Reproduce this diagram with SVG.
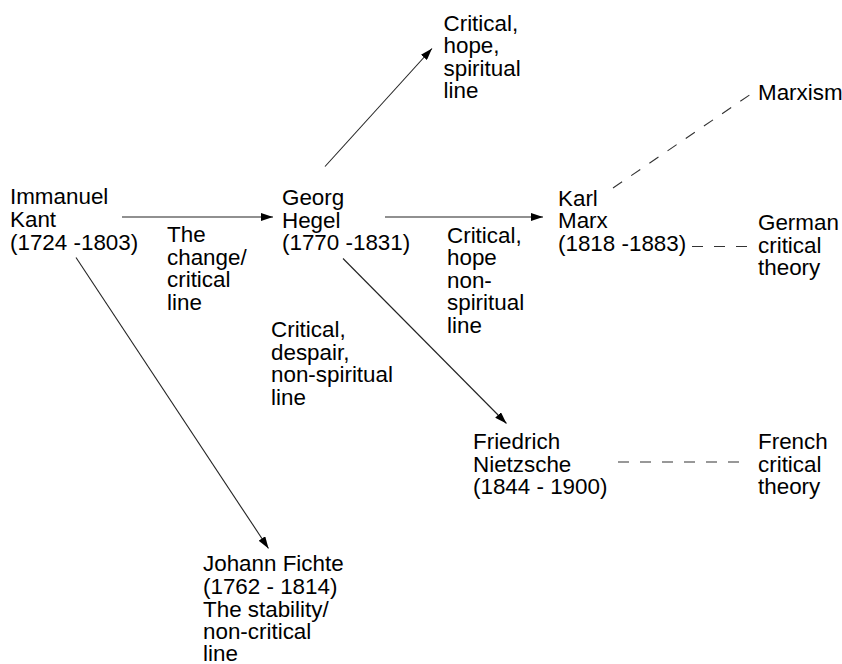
<svg xmlns="http://www.w3.org/2000/svg" width="842" height="664" viewBox="0 0 842 664">
  <style>
    text { font-family: "Liberation Sans", Arial, sans-serif; font-size: 22.4px; fill: #000; }
    .arrow { stroke: #222; stroke-width: 1.1; fill: none; marker-end: url(#head); }
    .dash { stroke: #333; stroke-width: 1.1; fill: none; stroke-dasharray: 11 11; }
  </style>
  <defs>
    <marker id="head" viewBox="0 0 12 8" refX="12" refY="4" markerWidth="12" markerHeight="8" markerUnits="userSpaceOnUse" orient="auto">
      <path d="M0,0 L12,4 L0,8 z" fill="#000"/>
    </marker>
  </defs>
  <rect width="842" height="664" fill="#fff"/>

  <g id="connectors">
    <line class="arrow" x1="122" y1="217" x2="273" y2="217"/>
    <line class="arrow" x1="385" y1="217" x2="543" y2="217"/>
    <line class="arrow" x1="325" y1="166.5" x2="432" y2="48.5"/>
    <line class="arrow" x1="343" y1="258.5" x2="506.5" y2="423.5"/>
    <line class="arrow" x1="76" y1="257.5" x2="268.5" y2="548.5"/>
    <line class="dash" x1="613" y1="188" x2="751" y2="94"/>
    <line class="dash" x1="692" y1="246.5" x2="748" y2="246.5"/>
    <line class="dash" x1="618" y1="462" x2="742" y2="462"/>
  </g>

  <g id="kant">
    <text x="10" y="203.5">Immanuel</text>
    <text x="10" y="226.5">Kant</text>
    <text x="10" y="249.5">(1724 -1803)</text>
  </g>
  <g id="hegel">
    <text x="282" y="205">Georg</text>
    <text x="282" y="227.5">Hegel</text>
    <text x="282" y="250">(1770 -1831)</text>
  </g>
  <g id="marx">
    <text x="558" y="205.5">Karl</text>
    <text x="558" y="228">Marx</text>
    <text x="558" y="250.5">(1818 -1883)</text>
  </g>
  <g id="nietzsche">
    <text x="473" y="448.5">Friedrich</text>
    <text x="473" y="471.5">Nietzsche</text>
    <text x="473" y="494">(1844 - 1900)</text>
  </g>
  <g id="fichte">
    <text x="203" y="571">Johann Fichte</text>
    <text x="203" y="594">(1762 - 1814)</text>
    <text x="203" y="616.5">The stability/</text>
    <text x="203" y="638.5">non-critical</text>
    <text x="203" y="660.5">line</text>
  </g>
  <g id="marxism">
    <text x="758" y="99.5">Marxism</text>
  </g>
  <g id="german-critical-theory">
    <text x="758" y="230">German</text>
    <text x="758" y="252.5">critical</text>
    <text x="758" y="275">theory</text>
  </g>
  <g id="french-critical-theory">
    <text x="758" y="448.5">French</text>
    <text x="758" y="471.5">critical</text>
    <text x="758" y="494">theory</text>
  </g>
  <g id="label-change">
    <text x="167" y="242">The</text>
    <text x="167" y="264.5">change/</text>
    <text x="167" y="287">critical</text>
    <text x="167" y="309.5">line</text>
  </g>
  <g id="label-spiritual">
    <text x="443.5" y="31">Critical,</text>
    <text x="443.5" y="53">hope,</text>
    <text x="443.5" y="75.5">spiritual</text>
    <text x="443.5" y="97.5">line</text>
  </g>
  <g id="label-hope-non-spiritual">
    <text x="447" y="242.5">Critical,</text>
    <text x="447" y="265">hope</text>
    <text x="447" y="287.5">non-</text>
    <text x="447" y="310">spiritual</text>
    <text x="447" y="332.5">line</text>
  </g>
  <g id="label-despair">
    <text x="271" y="337">Critical,</text>
    <text x="271" y="359.5">despair,</text>
    <text x="271" y="382">non-spiritual</text>
    <text x="271" y="404.5">line</text>
  </g>
</svg>
